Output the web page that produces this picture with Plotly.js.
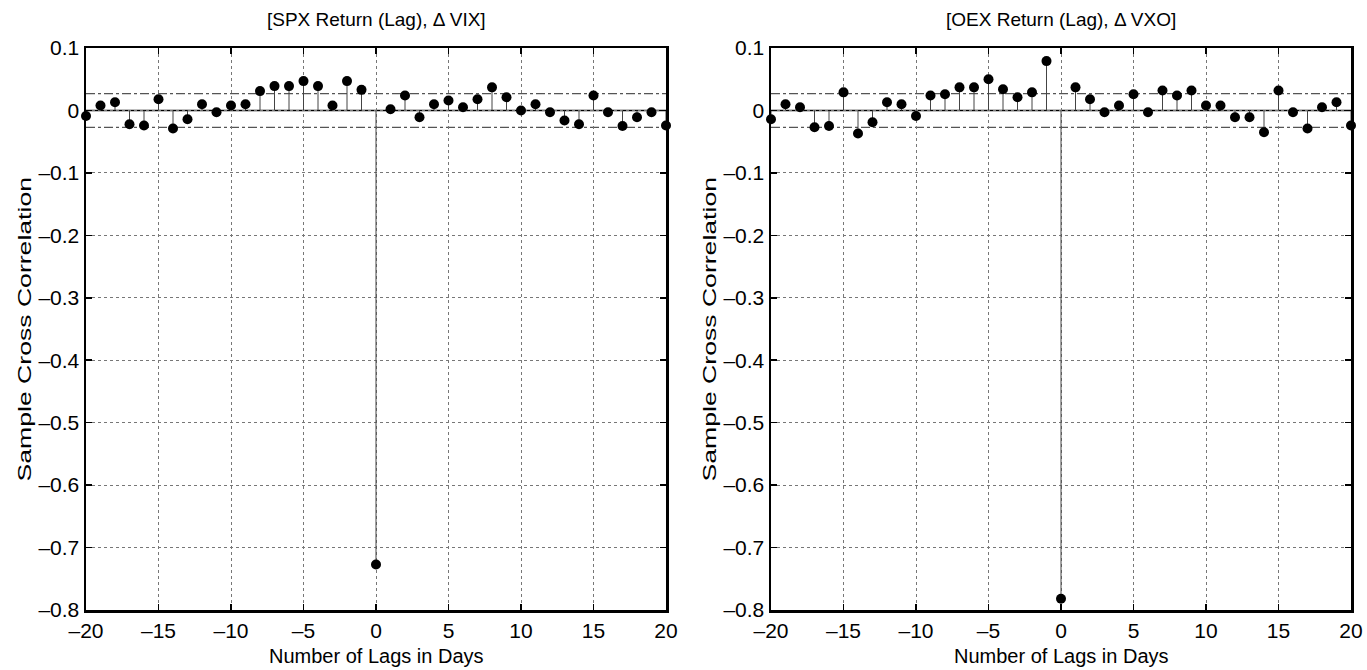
<!DOCTYPE html>
<html>
<head>
<meta charset="utf-8">
<script src="https://cdn.plot.ly/plotly-3.0.1.min.js"></script>
<style>html,body{margin:0;padding:0;background:#fff;}#chart{width:1367px;height:670px;}</style>
</head>
<body>
<div id="chart"></div>
<script>
// ---- data ----
const lags = [-20,-19,-18,-17,-16,-15,-14,-13,-12,-11,-10,-9,-8,-7,-6,-5,-4,-3,-2,-1,0,1,2,3,4,5,6,7,8,9,10,11,12,13,14,15,16,17,18,19,20];
const spxVix = [-0.009,0.008,0.013,-0.022,-0.024,0.018,-0.029,-0.014,0.010,-0.003,0.008,0.010,0.031,0.039,0.039,0.047,0.039,0.008,0.047,0.033,
                -0.727,
                0.002,0.024,-0.011,0.010,0.016,0.005,0.018,0.037,0.021,0.000,0.010,-0.003,-0.016,-0.022,0.024,-0.003,-0.025,-0.011,-0.003,-0.024];
const oexVxo = [-0.014,0.010,0.005,-0.027,-0.025,0.029,-0.037,-0.019,0.013,0.010,-0.009,0.024,0.026,0.037,0.037,0.050,0.034,0.021,0.029,0.079,
                -0.782,
                0.037,0.018,-0.003,0.008,0.026,-0.003,0.032,0.024,0.032,0.008,0.008,-0.011,-0.011,-0.035,0.032,-0.003,-0.029,0.005,0.013,-0.024];
const confBounds = [0.027, -0.027];
const panelTitles = ['[SPX Return (Lag), \u0394 VIX]', '[OEX Return (Lag), \u0394 VXO]'];
const xTickVals = [-20,-15,-10,-5,0,5,10,15,20];
const xTickText = ['\u201320','\u201315','\u201310','\u20135','0','5','10','15','20'];
const yTickVals = [0.1,0,-0.1,-0.2,-0.3,-0.4,-0.5,-0.6,-0.7,-0.8];
const yTickText = ['0.1','0','\u20130.1','\u20130.2','\u20130.3','\u20130.4','\u20130.5','\u20130.6','\u20130.7','\u20130.8'];
const xLabel = 'Number of Lags in Days';
const yLabel = 'Sample Cross Correlation';

// ---- layout helpers ----
const W = 1367, H = 670;
const font = 'Liberation Sans, Arial, Helvetica, sans-serif';
const panels = [
  {x0: 86, x1: 666, vals: spxVix},
  {x0: 771, x1: 1351, vals: oexVxo}
];
const yTop = 48, yBot = 610;

function stems(x, y) {
  const sx = [], sy = [];
  for (let i = 0; i < x.length; i++) { sx.push(x[i], x[i], null); sy.push(0, y[i], null); }
  return {sx, sy};
}

const traces = [];
const layout = {
  width: W, height: H,
  margin: {l: 0, r: 0, t: 0, b: 0},
  paper_bgcolor: '#fff', plot_bgcolor: '#fff',
  showlegend: false,
  shapes: [], annotations: []
};

panels.forEach((p, i) => {
  const xa = i === 0 ? 'x' : 'x2';
  const ya = i === 0 ? 'y' : 'y2';
  const xk = i === 0 ? 'xaxis' : 'xaxis2';
  const yk = i === 0 ? 'yaxis' : 'yaxis2';
  const s = stems(lags, p.vals);
  traces.push({
    type: 'scatter', mode: 'lines', x: s.sx, y: s.sy, xaxis: xa, yaxis: ya,
    line: {color: '#444', width: 1}, hoverinfo: 'skip', connectgaps: false
  });
  traces.push({
    type: 'scatter', mode: 'markers', x: lags, y: p.vals, xaxis: xa, yaxis: ya,
    marker: {color: '#000', size: 10, line: {width: 0}}, cliponaxis: false
  });
  const axCommon = {
    showline: true, linecolor: '#000', linewidth: 2.5, mirror: 'ticks',
    ticks: 'inside', ticklen: 6, tickwidth: 1.5, tickcolor: '#000',
    showgrid: true, gridcolor: '#777', gridwidth: 1, griddash: 'dot',
    zeroline: false, fixedrange: true,
    tickfont: {family: font, size: 21, color: '#000'}
  };
  layout[xk] = Object.assign({}, axCommon, {
    domain: [p.x0 / W, p.x1 / W], range: [-20, 20], anchor: ya,
    tickmode: 'array', tickvals: xTickVals, ticktext: xTickText,
    ticklabelstandoff: 0
  });
  layout[yk] = Object.assign({}, axCommon, {
    domain: [(H - yBot) / H, (H - yTop) / H], range: [-0.8, 0.1], anchor: xa,
    tickmode: 'array', tickvals: yTickVals, ticktext: yTickText,
    ticklabelstandoff: 0
  });
  layout.shapes.push({type: 'line', xref: xa + ' domain', yref: ya, x0: 0, x1: 1, y0: 0, y1: 0,
    line: {color: '#000', width: 1.5}, layer: 'below'});
  confBounds.forEach(b => layout.shapes.push({type: 'line', xref: xa + ' domain', yref: ya, x0: 0, x1: 1, y0: b, y1: b,
    line: {color: '#555', width: 1.2, dash: 'dashdot'}, layer: 'below'}));
  const cx = (p.x0 + p.x1) / 2 / W;
  layout.annotations.push({text: panelTitles[i], xref: 'paper', yref: 'paper', x: cx, y: 1 - 20 / H,
    xanchor: 'center', yanchor: 'middle', showarrow: false, font: {family: font, size: 19, color: '#000'}});
  layout.annotations.push({text: xLabel, xref: 'paper', yref: 'paper', x: cx, y: 1 - 656 / H,
    xanchor: 'center', yanchor: 'middle', showarrow: false, font: {family: font, size: 20, color: '#000'}});
  layout.annotations.push({text: yLabel, xref: 'paper', yref: 'paper', x: (p.x0 - 62) / W, y: 1 - ((yTop + yBot) / 2) / H,
    xanchor: 'center', yanchor: 'middle', textangle: -90, showarrow: false, font: {family: font, size: 19, color: '#000'}});
});

Plotly.newPlot('chart', traces, layout, {displayModeBar: false, staticPlot: true}).then(gd => {
  // the reference's rotated axis titles are stretched along their length
  gd.querySelectorAll('.annotation-text').forEach(t => {
    if (t.textContent !== yLabel) return;
    const b = t.getBBox();
    const cx = b.x + b.width / 2, cy = b.y + b.height / 2;
    t.setAttribute('transform', `translate(${cx},${cy}) scale(1.4,1) translate(${-cx},${-cy})`);
  });
});
</script>
</body>
</html>
